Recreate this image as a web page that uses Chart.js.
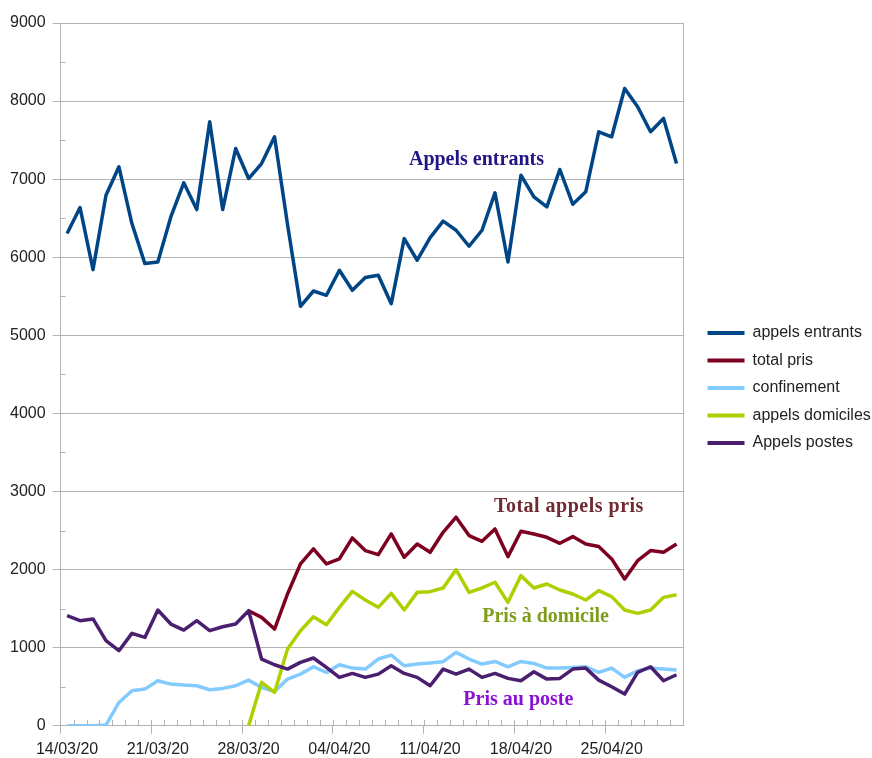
<!DOCTYPE html>
<html>
<head>
<meta charset="utf-8">
<script src="https://cdn.jsdelivr.net/npm/chart.js@4"></script>
<style>
html,body{margin:0;padding:0;background:#fff;}
canvas{display:block;}
</style>
</head>
<body>
<canvas id="myChart" width="872" height="758"></canvas>
<script>
const canvas = document.getElementById('myChart');
const ctx = canvas.getContext('2d');

// days on the x axis (one point per day)
const labels = [
  '14/03/20','15/03/20','16/03/20','17/03/20','18/03/20','19/03/20','20/03/20',
  '21/03/20','22/03/20','23/03/20','24/03/20','25/03/20','26/03/20','27/03/20',
  '28/03/20','29/03/20','30/03/20','31/03/20','01/04/20','02/04/20','03/04/20',
  '04/04/20','05/04/20','06/04/20','07/04/20','08/04/20','09/04/20','10/04/20',
  '11/04/20','12/04/20','13/04/20','14/04/20','15/04/20','16/04/20','17/04/20',
  '18/04/20','19/04/20','20/04/20','21/04/20','22/04/20','23/04/20','24/04/20',
  '25/04/20','26/04/20','27/04/20','28/04/20','29/04/20','30/04/20'
];

const appelsEntrants = [6304,6637,5842,6795,7158,6432,5919,5940,6517,6953,6611,7735,6611,7393,
  7008,7200,7543,6420,5372,5568,5513,5833,5577,5740,5769,5406,6239,5962,6252,6462,6346,6141,
  6346,6824,5940,7051,6774,6645,7124,6679,6838,7607,7543,8162,7927,7607,7778,7201];

const totalPris = [null,null,null,null,null,null,null,null,null,null,null,null,null,null,
  1474,1389,1239,1688,2073,2265,2073,2137,2406,2244,2192,2457,2158,2329,2222,2478,2671,2436,
  2363,2521,2167,2491,2457,2414,2337,2423,2329,2295,2137,1880,2115,2244,2222,2329];

const confinement = [0,0,0,10,299,449,470,577,534,521,513,462,479,513,585,491,440,598,662,756,
  684,782,739,726,855,906,769,791,804,821,940,855,791,824,756,824,799,739,739,748,756,684,739,
  620,705,739,726,714];

const appelsDomiciles = [null,null,null,null,null,null,null,null,null,null,null,null,null,null,
  0,556,427,983,1218,1397,1295,1517,1722,1611,1517,1696,1483,1709,1718,1765,2000,1709,1765,
  1838,1581,1923,1765,1816,1739,1688,1611,1731,1654,1483,1440,1483,1645,1679];

const appelsPostes = [1410,1346,1368,1090,962,1184,1132,1483,1303,1226,1346,1218,1269,1303,
  1474,855,782,726,812,868,748,620,671,620,662,769,671,620,513,726,662,726,620,671,607,577,
  692,598,607,726,739,585,500,406,684,756,577,654];

const yTicks = [0,1000,2000,3000,4000,5000,6000,7000,8000,9000];

const gridGray = '#b3b3b3';

// text notes written inside the plot (x = day index, y = value)
const notes = [
  {text:'Appels entrants', x:31.57, y:7250, color:'#221585', spacing:'0px'},
  {text:'Total appels pris', x:38.7, y:2808, color:'#6e2b32', spacing:'0.5px'},
  {text:'Pris à domicile', x:36.9, y:1397, color:'#7f9d1a', spacing:'0px'},
  {text:'Pris au poste', x:34.8, y:327, color:'#8a10d8', spacing:'0px'}
];

const notesPlugin = {
  id:'notes',
  afterDatasetsDraw(chart){
    const c = chart.ctx;
    const x = chart.scales.x, y = chart.scales.y;
    c.save();
    c.font = 'bold 20px "Liberation Serif"';
    c.textAlign = 'center';
    c.textBaseline = 'middle';
    notes.forEach(n => {
      c.letterSpacing = n.spacing;
      c.fillStyle = n.color;
      c.fillText(n.text, x.getPixelForValue(n.x), y.getPixelForValue(n.y));
    });
    c.restore();
  }
};

// small inner tick marks (every day on x, every 500 on y)
const minorTicks = {
  id:'minorTicks',
  beforeDatasetsDraw(chart){
    const c = chart.ctx;
    const a = chart.chartArea;
    const x = chart.scales.x, y = chart.scales.y;
    c.save();
    c.strokeStyle = gridGray;
    c.lineWidth = 1;
    c.beginPath();
    for (let i = 1; i < labels.length; i++) {
      const px = Math.round(x.getPixelForValue(i - 0.5)) + 0.5;
      c.moveTo(px, a.bottom);
      c.lineTo(px, a.bottom - 6);
    }
    for (let v = 500; v < 9000; v += 1000) {
      const py = Math.round(y.getPixelForValue(v)) + 0.5;
      c.moveTo(a.left, py);
      c.lineTo(a.left + 5, py);
    }
    c.stroke();
    c.restore();
  }
};

// legend sits a little above the middle of the canvas
const legendShift = {
  id:'legendShift',
  afterLayout(chart){
    chart.legend.top -= 6;
    chart.legend.bottom -= 6;
  }
};

function line(label, data, color, order){
  return {
    label: label,
    data: data,
    borderColor: color,
    backgroundColor: color,
    borderWidth: 3.5,
    pointRadius: 0,
    tension: 0,
    fill: false,
    spanGaps: false,
    borderJoinStyle: 'round',
    order: order
  };
}

const chartInstance = new Chart(ctx, {
  type: 'line',
  data: {
    labels: labels,
    datasets: [
      line('appels entrants', appelsEntrants, '#004586', 5),
      line('total pris', totalPris, '#7e0021', 4),
      line('confinement', confinement, '#83caff', 3),
      line('appels domiciles', appelsDomiciles, '#aecf00', 2),
      line('Appels postes', appelsPostes, '#4b1f6f', 1)
    ]
  },
  options: {
    responsive: false,
    animation: false,
    layout: { padding: { left: 3, top: 23, right: 0, bottom: -7 } },
    plugins: {
      tooltip: { enabled: false },
      legend: {
        position: 'right',
        maxWidth: 176,
        labels: {
          boxWidth: 37,
          boxHeight: 4,
          padding: 11.5,
          color: '#222',
          font: { family: '"Liberation Sans"', size: 16 },
          sort: (a, b) => a.datasetIndex - b.datasetIndex,
          generateLabels: (chart) => {
            const items = Chart.defaults.plugins.legend.labels.generateLabels(chart);
            items.forEach(it => { it.lineWidth = 0; it.fillStyle = it.strokeStyle; });
            return items;
          }
        }
      }
    },
    scales: {
      x: {
        type: 'category',
        offset: true,
        grid: {
          offset: true,
          drawOnChartArea: false,
          tickLength: 8,
          tickColor: (c) => (c.index !== undefined && c.index % 7 === 0) ? gridGray : 'rgba(0,0,0,0)'
        },
        border: { color: gridGray, width: 1 },
        ticks: {
          autoSkip: false,
          maxRotation: 0,
          minRotation: 0,
          padding: 6,
          color: '#222',
          font: { family: '"Liberation Sans"', size: 16 },
          callback: function(value, index){ return index % 7 === 0 ? labels[index] : ''; }
        }
      },
      y: {
        min: 0,
        max: 9000,
        afterBuildTicks: (scale) => { scale.ticks = yTicks.map(v => ({ value: v })); },
        grid: { color: gridGray, tickLength: 8, tickColor: gridGray },
        border: { color: gridGray, width: 1 },
        ticks: {
          padding: 7,
          color: '#222',
          font: { family: '"Liberation Sans"', size: 16 },
          callback: (v) => String(v)
        }
      },
      yRight: {
        position: 'right',
        min: 0,
        max: 1,
        afterFit: (scale) => { scale.width = 13; },
        grid: { display: false },
        border: { display: true, color: gridGray, width: 1 },
        ticks: { display: false }
      }
    }
  },
  plugins: [minorTicks, notesPlugin, legendShift]
});
</script>
</body>
</html>
